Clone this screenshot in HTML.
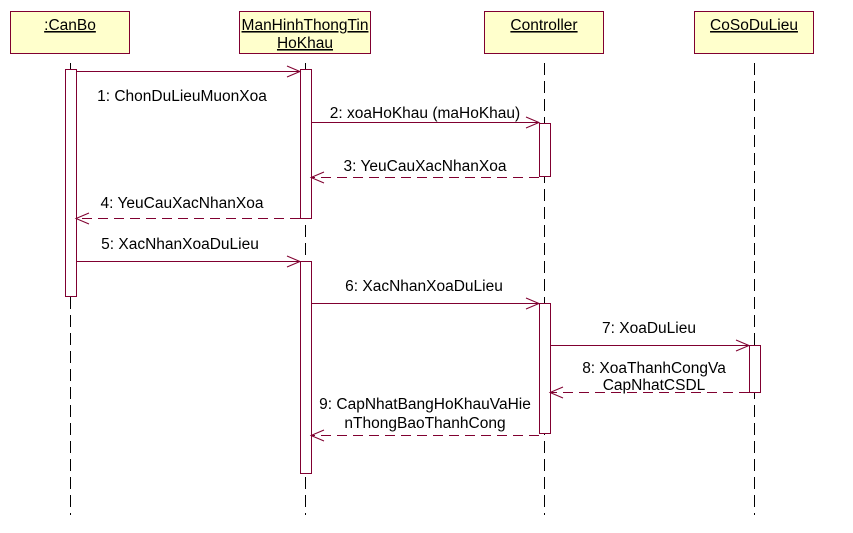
<!DOCTYPE html>
<html><head><meta charset="utf-8"><style>
body{margin:0;background:#fff}
svg text{font-family:"Liberation Sans",sans-serif;font-size:15.5px;fill:#000}
</style></head><body>
<svg width="853" height="528" xmlns="http://www.w3.org/2000/svg">
<g fill="#ffffcc" stroke="#800030" stroke-width="1">
<rect x="10.5" y="11.5" width="119" height="42"/>
<rect x="239.5" y="11.5" width="131" height="42"/>
<rect x="484.5" y="11.5" width="119" height="42"/>
<rect x="694.5" y="11.5" width="119" height="42"/>
</g>
<g text-anchor="middle" text-decoration="underline">
<text x="70" y="30">:CanBo</text>
<text x="305" y="30">ManHinhThongTin</text>
<text x="305" y="48">HoKhau</text>
<text x="544" y="30">Controller</text>
<text x="754" y="30">CoSoDuLieu</text>
</g>
<g stroke="#000" stroke-dasharray="12,6">
<line x1="70.5" y1="63" x2="70.5" y2="515"/>
<line x1="305.5" y1="63" x2="305.5" y2="515"/>
<line x1="544.5" y1="63" x2="544.5" y2="515"/>
<line x1="754.5" y1="63" x2="754.5" y2="515"/>
</g>
<g fill="#fff" stroke="#800030">
<rect x="65.5" y="69.5" width="11" height="227"/>
<rect x="300.5" y="69.5" width="11" height="149"/>
<rect x="300.5" y="261.5" width="11" height="212"/>
<rect x="539.5" y="123.5" width="11" height="53"/>
<rect x="539.5" y="303.5" width="11" height="130"/>
<rect x="749.5" y="345.5" width="11" height="47"/>
</g>
<g stroke="#800030" fill="none">
<line x1="76" y1="71.5" x2="300" y2="71.5"/><polyline points="287,66 300,71.5 287,77"/>
<line x1="311" y1="122.5" x2="539" y2="122.5"/><polyline points="526,117 539,122.5 526,128"/>
<line x1="539" y1="177.5" x2="311" y2="177.5" stroke-dasharray="10,6"/><polyline points="324,172 311,177.5 324,183"/>
<line x1="300" y1="218.5" x2="76" y2="218.5" stroke-dasharray="10,6"/><polyline points="89,213 76,218.5 89,224"/>
<line x1="76" y1="261.5" x2="300" y2="261.5"/><polyline points="287,256 300,261.5 287,267"/>
<line x1="311" y1="303.5" x2="539" y2="303.5"/><polyline points="526,298 539,303.5 526,309"/>
<line x1="550" y1="345.5" x2="749" y2="345.5"/><polyline points="736,340 749,345.5 736,351"/>
<line x1="749" y1="392.5" x2="550" y2="392.5" stroke-dasharray="10,6"/><polyline points="563,387 550,392.5 563,398"/>
<line x1="539" y1="435.5" x2="311" y2="435.5" stroke-dasharray="10,6"/><polyline points="324,430 311,435.5 324,441"/>
</g>
<g text-anchor="middle">
<text x="182" y="101">1: ChonDuLieuMuonXoa</text>
<text x="425" y="118">2: xoaHoKhau (maHoKhau)</text>
<text x="425" y="171">3: YeuCauXacNhanXoa</text>
<text x="182" y="208">4: YeuCauXacNhanXoa</text>
<text x="180" y="249">5: XacNhanXoaDuLieu</text>
<text x="424" y="291">6: XacNhanXoaDuLieu</text>
<text x="649" y="333">7: XoaDuLieu</text>
<text x="654" y="373">8: XoaThanhCongVa</text>
<text x="654" y="390">CapNhatCSDL</text>
<text x="425" y="409">9: CapNhatBangHoKhauVaHie</text>
<text x="425" y="428">nThongBaoThanhCong</text>
</g>
</svg>
</body></html>
